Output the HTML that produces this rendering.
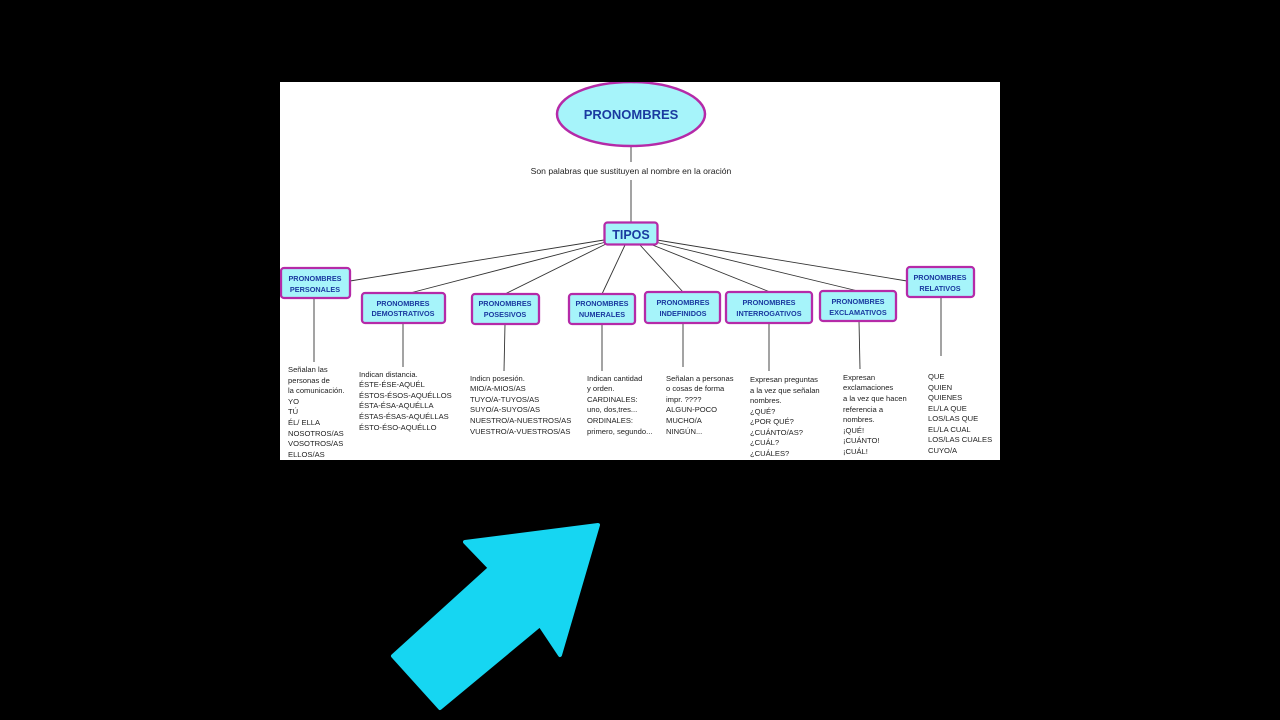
<!DOCTYPE html>
<html><head><meta charset="utf-8"><style>
html,body{margin:0;padding:0;background:#000;width:1280px;height:720px;overflow:hidden}
svg{display:block}
.n{font-family:"Liberation Sans",sans-serif;font-weight:bold;fill:#1a3aa0;text-anchor:middle}
.t{font-family:"Liberation Sans",sans-serif;font-size:7.6px;fill:#222}
</style></head><body>
<svg width="1280" height="720" viewBox="0 0 1280 720" xmlns="http://www.w3.org/2000/svg">
<rect width="1280" height="720" fill="#000"/>
<svg x="280" y="82" width="720" height="378" viewBox="280 82 720 378">
<rect x="280" y="82" width="720" height="378" fill="#fff"/>
<g stroke="#333" stroke-width="0.9" fill="none">
<line x1="631" y1="146" x2="631" y2="162"/>
<line x1="631" y1="180" x2="631" y2="222"/>
<line x1="604" y1="240" x2="350" y2="281"/>
<line x1="606" y1="242" x2="410" y2="293"/>
<line x1="608" y1="243" x2="505" y2="294"/>
<line x1="625" y1="245" x2="602" y2="294"/>
<line x1="640" y1="245" x2="683" y2="292"/>
<line x1="650" y1="244" x2="770" y2="292"/>
<line x1="655" y1="242" x2="858" y2="291"/>
<line x1="657" y1="240" x2="907" y2="281"/>
<line x1="314" y1="298" x2="314" y2="362"/>
<line x1="403" y1="323" x2="403" y2="367"/>
<line x1="505" y1="324" x2="504" y2="371"/>
<line x1="602" y1="324" x2="602" y2="371"/>
<line x1="683" y1="323" x2="683" y2="367"/>
<line x1="769" y1="323" x2="769" y2="371"/>
<line x1="859" y1="321" x2="860" y2="369"/>
<line x1="941" y1="297" x2="941" y2="356"/>
</g>
<ellipse cx="631" cy="114" rx="74" ry="32" fill="#a6f4fa" stroke="#b52aa8" stroke-width="2.5"/>
<text x="631" y="119" class="n" font-size="13">PRONOMBRES</text>
<text x="631" y="174" font-family="Liberation Sans,sans-serif" font-size="8.6" fill="#222" text-anchor="middle">Son palabras que sustituyen al nombre en la oración</text>
<g fill="#a6f4fa" stroke="#b52aa8" stroke-width="2.3">
<rect x="604.5" y="222.5" width="53" height="22" rx="3"/>
<rect x="281" y="268" width="69" height="30" rx="3"/>
<rect x="362" y="293" width="83" height="30" rx="3"/>
<rect x="472" y="294" width="67" height="30" rx="3"/>
<rect x="569" y="294" width="66" height="30" rx="3"/>
<rect x="645" y="292" width="75" height="31" rx="3"/>
<rect x="726" y="292" width="86" height="31" rx="3"/>
<rect x="820" y="291" width="76" height="30" rx="3"/>
<rect x="907" y="267" width="67" height="30" rx="3"/>
</g>
<text x="631" y="239" class="n" font-size="12.5">TIPOS</text>
<g class="n" font-size="7.3">
<text x="315" y="281">PRONOMBRES</text><text x="315" y="292">PERSONALES</text>
<text x="403" y="306">PRONOMBRES</text><text x="403" y="316">DEMOSTRATIVOS</text>
<text x="505" y="306">PRONOMBRES</text><text x="505" y="317">POSESIVOS</text>
<text x="602" y="306">PRONOMBRES</text><text x="602" y="317">NUMERALES</text>
<text x="683" y="305">PRONOMBRES</text><text x="683" y="316">INDEFINIDOS</text>
<text x="769" y="305">PRONOMBRES</text><text x="769" y="316">INTERROGATIVOS</text>
<text x="858" y="304">PRONOMBRES</text><text x="858" y="315">EXCLAMATIVOS</text>
<text x="940" y="280">PRONOMBRES</text><text x="940" y="291">RELATIVOS</text>
</g>
<g class="t">
<text x="288" y="372">Señalan las</text><text x="288" y="383">personas de</text><text x="288" y="393">la comunicación.</text><text x="288" y="404">YO</text><text x="288" y="414">TÚ</text><text x="288" y="425">ÉL/ ELLA</text><text x="288" y="436">NOSOTROS/AS</text><text x="288" y="446">VOSOTROS/AS</text><text x="288" y="457">ELLOS/AS</text>
<text x="359" y="377">Indican distancia.</text><text x="359" y="387">ÉSTE-ÉSE-AQUÉL</text><text x="359" y="398">ÉSTOS-ÉSOS-AQUÉLLOS</text><text x="359" y="408">ÉSTA-ÉSA-AQUÉLLA</text><text x="359" y="419">ÉSTAS-ÉSAS-AQUÉLLAS</text><text x="359" y="430">ÉSTO-ÉSO-AQUÉLLO</text>
<text x="470" y="381">Indicn posesión.</text><text x="470" y="391">MIO/A-MIOS/AS</text><text x="470" y="402">TUYO/A-TUYOS/AS</text><text x="470" y="412">SUYO/A-SUYOS/AS</text><text x="470" y="423">NUESTRO/A-NUESTROS/AS</text><text x="470" y="434">VUESTRO/A-VUESTROS/AS</text>
<text x="587" y="381">Indican cantidad</text><text x="587" y="391">y orden.</text><text x="587" y="402">CARDINALES:</text><text x="587" y="412">uno, dos,tres...</text><text x="587" y="423">ORDINALES:</text><text x="587" y="434">primero, segundo...</text>
<text x="666" y="381">Señalan a personas</text><text x="666" y="391">o cosas de forma</text><text x="666" y="402">impr. ????</text><text x="666" y="412">ALGUN-POCO</text><text x="666" y="423">MUCHO/A</text><text x="666" y="434">NINGÚN...</text>
<text x="750" y="382">Expresan preguntas</text><text x="750" y="393">a la vez que señalan</text><text x="750" y="403">nombres.</text><text x="750" y="414">¿QUÉ?</text><text x="750" y="424">¿POR QUÉ?</text><text x="750" y="435">¿CUÁNTO/AS?</text><text x="750" y="445">¿CUÁL?</text><text x="750" y="456">¿CUÁLES?</text>
<text x="843" y="380">Expresan</text><text x="843" y="390">exclamaciones</text><text x="843" y="401">a la vez que hacen</text><text x="843" y="412">referencia a</text><text x="843" y="422">nombres.</text><text x="843" y="433">¡QUÉ!</text><text x="843" y="443">¡CUÁNTO!</text><text x="843" y="454">¡CUÁL!</text>
<text x="928" y="379">QUE</text><text x="928" y="390">QUIEN</text><text x="928" y="400">QUIENES</text><text x="928" y="411">EL/LA QUE</text><text x="928" y="421">LOS/LAS QUE</text><text x="928" y="432">EL/LA CUAL</text><text x="928" y="442">LOS/LAS CUALES</text><text x="928" y="453">CUYO/A</text>
</g>
</svg>
<polygon points="598,525 465,542 490,568 393,656 440,708 540,625 560,655" fill="#16d6f2" stroke="#16d6f2" stroke-width="4" stroke-linejoin="round"/>
</svg>
</body></html>
